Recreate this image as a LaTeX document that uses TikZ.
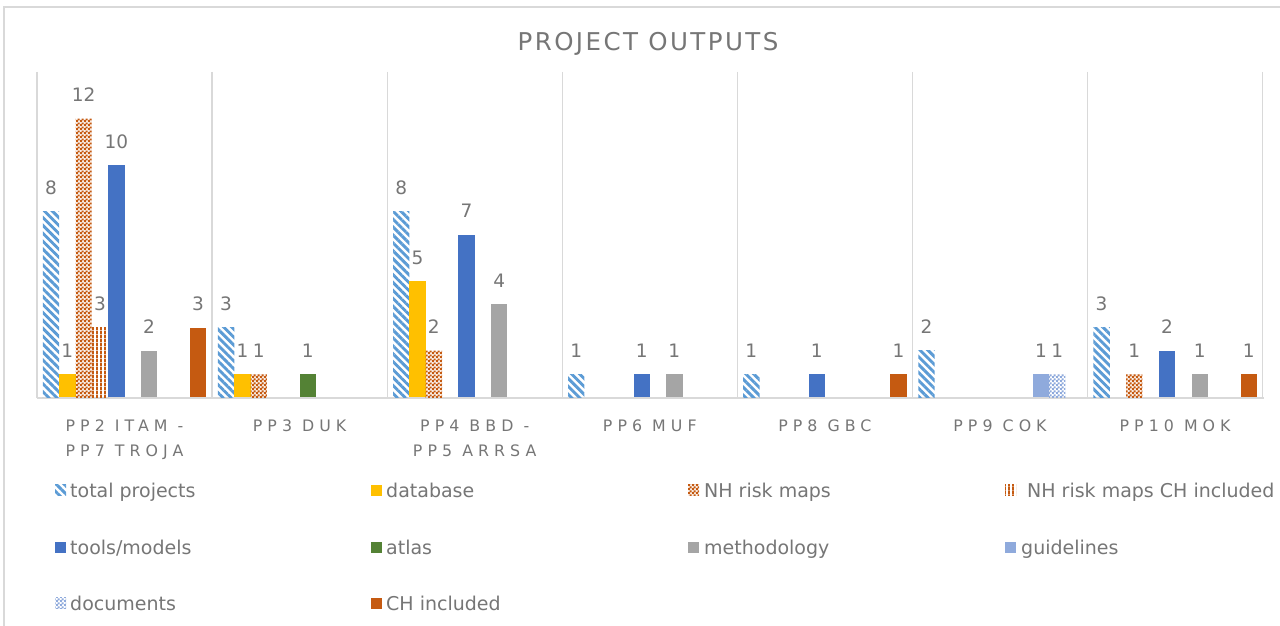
\documentclass[tikz,border=0pt]{standalone}
\usepackage{fontspec}
\setmainfont{DejaVu Sans}
\newfontfamily\catfont[LetterSpace=32]{DejaVu Sans}
\newfontfamily\titfont[LetterSpace=10]{DejaVu Sans}
\usetikzlibrary{patterns,patterns.meta}
\definecolor{cTot}{HTML}{5B9BD5}
\definecolor{cDb}{HTML}{FFC000}
\definecolor{cOr}{HTML}{C55A11}
\definecolor{cTool}{HTML}{4472C4}
\definecolor{cAtl}{HTML}{548235}
\definecolor{cMeth}{HTML}{A5A5A5}
\definecolor{cGuide}{HTML}{8FAADC}
\definecolor{cGrid}{HTML}{D9D9D9}
\definecolor{cTxt}{HTML}{767676}
\tikzdeclarepattern{
  name=mychk, type=uncolored,
  bottom left={(0pt,0pt)}, top right={(4pt,4pt)}, tile size={(4pt,4pt)},
  code={\fill (0pt,0pt) rectangle (2.2pt,2.2pt); \fill (2pt,2pt) rectangle (4.2pt,4.2pt);}
}
\tikzdeclarepattern{
  name=myvstripe, type=uncolored,
  bottom left={(0pt,0pt)}, top right={(4pt,4pt)}, tile size={(4pt,4pt)},
  code={\fill (0pt,-0.2pt) rectangle (2.2pt,4.2pt);}
}
\tikzset{
  s0/.style={fill=white, postaction={pattern={Lines[angle=-45,distance=5.6pt,line width=2.9pt]}, pattern color=cTot}},
  s1/.style={fill=cDb},
  s2/.style={fill=cOr!12, postaction={pattern=mychk, pattern color=cOr}},
  s3/.style={fill=white, postaction={pattern=myvstripe, pattern color=cOr}},
  s4/.style={fill=cTool},
  s5/.style={fill=cAtl},
  s6/.style={fill=cMeth},
  s7/.style={fill=cGuide},
  s8/.style={fill=white, postaction={pattern=mychk, pattern color=cGuide}},
  s9/.style={fill=cOr},
  grid/.style={draw=cGrid, line width=1.3pt},
  vlab/.style={text=cTxt, font=\fontsize{18.5}{22}\selectfont, anchor=base, inner sep=0pt},
  cat/.style={text=cTxt, font=\catfont\fontsize{15.8}{25}\selectfont, anchor=north, align=center, inner sep=0pt},
  leg/.style={text=cTxt, font=\fontsize{19}{22}\selectfont, anchor=base west, inner sep=0pt},
}
\begin{document}
\begin{tikzpicture}[x=1pt,y=-1pt]
\useasboundingbox (0,0) rectangle (1280,626);
\fill[white] (0,0) rectangle (1280,626);
\draw[draw=cGrid, line width=1.5pt] (4,7) rectangle (1300,660);
% title
\node[text=cTxt, font=\titfont\fontsize{24.5}{28}\selectfont, inner sep=0pt] (title) at (648,44) {PROJECT OUTPUTS};
% grid
\foreach \k in {0,...,7} {
  \pgfmathsetmacro\gx{37+175.1*\k}
  \draw[grid] (\gx,72) -- (\gx,398);
}
\draw[grid] (37,398) -- (1263.7,398);
% bars
\foreach \grp/\ser/\val in {0/0/8, 0/1/1, 0/2/12, 0/3/3, 0/4/10, 0/6/2, 0/9/3,
  1/0/3, 1/1/1, 1/2/1, 1/5/1,
  2/0/8, 2/1/5, 2/2/2, 2/4/7, 2/6/4,
  3/0/1, 3/4/1, 3/6/1,
  4/0/1, 4/4/1, 4/9/1,
  5/0/2, 5/7/1, 5/8/1,
  6/0/3, 6/2/1, 6/4/2, 6/6/1, 6/9/1} {
  \pgfmathsetmacro\xa{37+175.1*\grp+5.8+16.35*\ser}
  \pgfmathsetmacro\xb{\xa+16.35}
  \pgfmathsetmacro\xc{\xa+8.17}
  \pgfmathsetmacro\yt{397.3-23.22*\val}
  \pgfmathsetmacro\yl{\yt-17}
  \path[s\ser] (\xa,\yt) rectangle (\xb,397.3);
  \node[vlab] (v\grp-\ser) at (\xc,\yl) {\val};
}
% categories
\node[cat] (c0) at (124.5,419.5) {PP2 ITAM -\\PP7 TROJA};
\node[cat] (c1) at (299.6,419.5) {PP3 DUK};
\node[cat] (c2) at (474.7,419.5) {PP4 BBD -\\PP5 ARRSA};
\node[cat] (c3) at (649.8,419.5) {PP6 MUF};
\node[cat] (c4) at (824.9,419.5) {PP8 GBC};
\node[cat] (c5) at (1000,419.5) {PP9 COK};
\node[cat] (c6) at (1175.1,419.5) {PP10 MOK};
% legend
\path[s0] (55,484.5) rectangle (66,495.5);
\node[leg] (l0) at (70,497) {total projects};
\path[s1] (371,484.5) rectangle (382,495.5);
\node[leg] (l1) at (386,497) {database};
\path[s2] (688,484.5) rectangle (699,495.5);
\node[leg] (l2) at (704,497) {NH risk maps};
\path[s3] (1005,484.5) rectangle (1016,495.5);
\node[leg] (l3) at (1027,497) {NH risk maps CH included};
\path[s4] (55,541.5) rectangle (66,552.5);
\node[leg] (l4) at (70,554) {tools/models};
\path[s5] (371,541.5) rectangle (382,552.5);
\node[leg] (l5) at (386,554) {atlas};
\path[s6] (688,541.5) rectangle (699,552.5);
\node[leg] (l6) at (704,554) {methodology};
\path[s7] (1005,541.5) rectangle (1016,552.5);
\node[leg] (l7) at (1021,554) {guidelines};
\path[s8] (55,597.5) rectangle (66,608.5);
\node[leg] (l8) at (70,610) {documents};
\path[s9] (371,597.5) rectangle (382,608.5);
\node[leg] (l9) at (386,610) {CH included};
\end{tikzpicture}
\end{document}
